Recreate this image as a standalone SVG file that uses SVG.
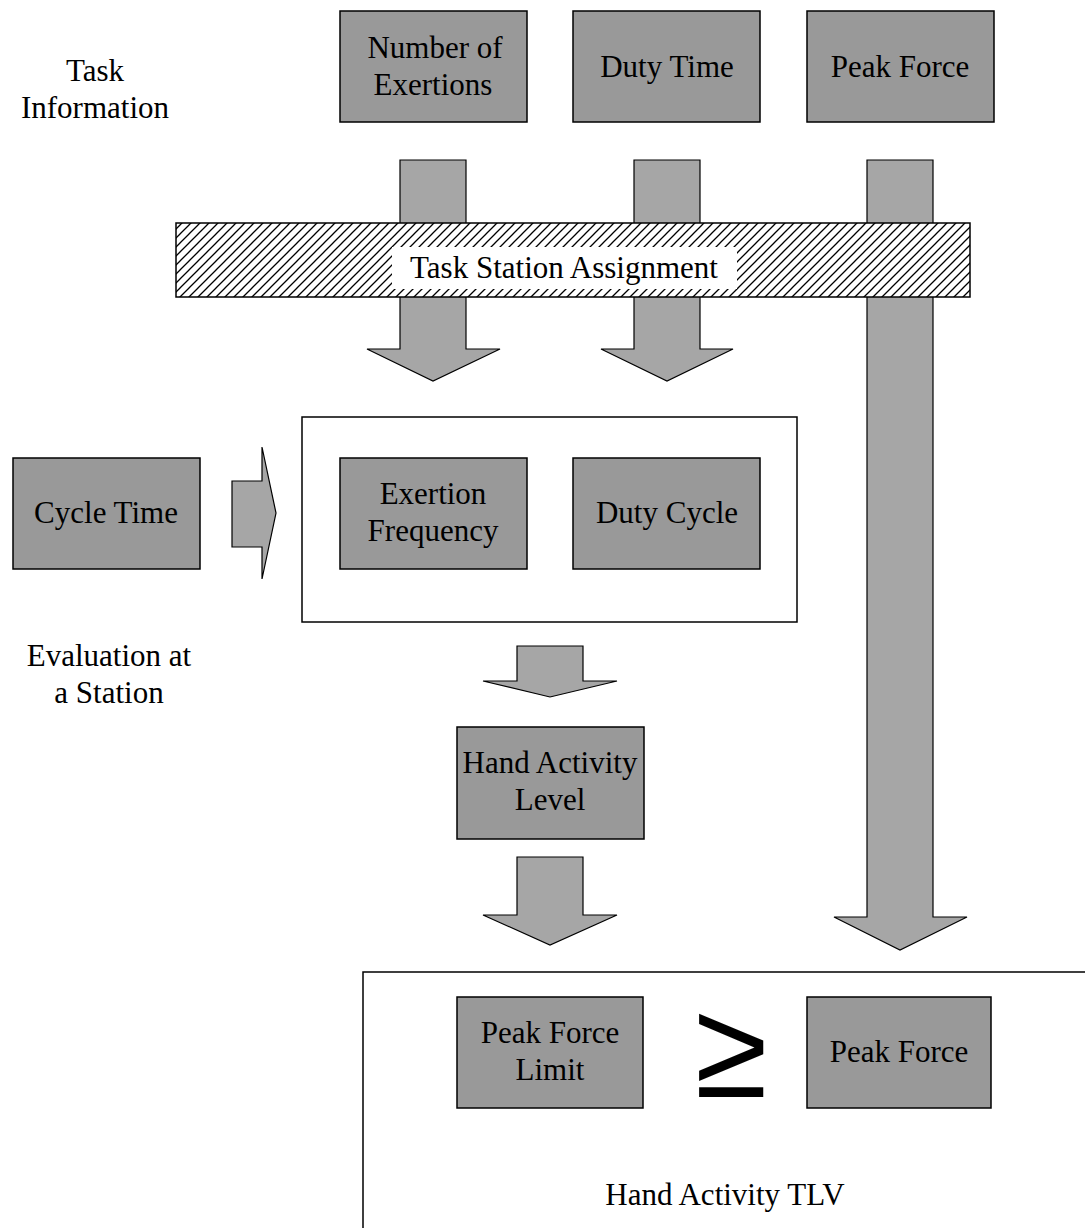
<svg xmlns="http://www.w3.org/2000/svg" width="1085" height="1228" viewBox="0 0 1085 1228">
<style>
.box{fill:#999999;stroke:#000;stroke-width:1.5}
.arr{fill:#a6a6a6;stroke:#000;stroke-width:1.2;stroke-linejoin:miter}
.frame{fill:none;stroke:#000;stroke-width:1.5}
text{font-family:"Liberation Serif","Times New Roman",serif;font-size:31px;fill:#000;text-anchor:middle}
</style>
<defs>
<pattern id="hatch" patternUnits="userSpaceOnUse" width="9" height="9">
<rect width="9" height="9" fill="#fff"/>
<path d="M-2,2 L2,-2 M0,9 L9,0 M7,11 L11,7" stroke="#000" stroke-width="1.3"/>
</pattern>
</defs>
<rect width="1085" height="1228" fill="#fff"/>

<g id="connectors">
<polygon class="arr" points="400,160 466,160 466,349 500,349 433,381 367,349 400,349"/>
<polygon class="arr" points="634,160 700,160 700,349 733,349 667,381 601,349 634,349"/>
<polygon class="arr" points="867,160 933,160 933,917 967,917 900,950 834,917 867,917"/>
<polygon class="arr" points="232,481 262,481 262,447 276,513 262,579 262,547 232,547"/>
<polygon class="arr" points="517,646 583,646 583,681 617,681 550,697 483,681 517,681"/>
<polygon class="arr" points="517,857 583,857 583,915 617,915 550,945 483,915 517,915"/>
</g>

<g id="task-station-assignment">
<rect x="176" y="223" width="794" height="74" fill="url(#hatch)" stroke="#000" stroke-width="1.5"/>
<rect x="392" y="247" width="345" height="42" fill="#fff"/>
<text x="564" y="278">Task Station Assignment</text>
</g>

<g id="task-information-label">
<text x="95" y="81">Task</text>
<text x="95" y="118">Information</text>
</g>

<g id="number-of-exertions">
<rect class="box" x="340" y="11" width="187" height="111"/>
<text x="435" y="58">Number of</text>
<text x="433" y="95">Exertions</text>
</g>
<g id="duty-time">
<rect class="box" x="573" y="11" width="187" height="111"/>
<text x="667" y="77">Duty Time</text>
</g>
<g id="peak-force-top">
<rect class="box" x="807" y="11" width="187" height="111"/>
<text x="900" y="77">Peak Force</text>
</g>

<g id="cycle-time">
<rect class="box" x="13" y="458" width="187" height="111"/>
<text x="106" y="523">Cycle Time</text>
</g>

<g id="evaluation-station">
<rect class="frame" x="302" y="417" width="495" height="205"/>
</g>
<g id="exertion-frequency">
<rect class="box" x="340" y="458" width="187" height="111"/>
<text x="433" y="504">Exertion</text>
<text x="433" y="541">Frequency</text>
</g>
<g id="duty-cycle">
<rect class="box" x="573" y="458" width="187" height="111"/>
<text x="667" y="523">Duty Cycle</text>
</g>
<g id="evaluation-label">
<text x="109" y="666">Evaluation at</text>
<text x="109" y="703">a Station</text>
</g>

<g id="hand-activity-level">
<rect class="box" x="457" y="727" width="187" height="112"/>
<text x="550" y="773">Hand Activity</text>
<text x="550" y="810">Level</text>
</g>

<g id="hand-activity-tlv">
<path class="frame" d="M1085,972 L363,972 L363,1228"/>
<text x="725" y="1205">Hand Activity TLV</text>
</g>
<g id="peak-force-limit">
<rect class="box" x="457" y="997" width="186" height="111"/>
<text x="550" y="1043">Peak Force</text>
<text x="550" y="1080">Limit</text>
</g>
<g id="geq">
<text transform="translate(731,1097) scale(1,1.05)" x="0" y="0" style="font-family:'Liberation Sans',Arial,sans-serif;font-size:132px">≥</text>
</g>
<g id="peak-force-bottom">
<rect class="box" x="807" y="997" width="184" height="111"/>
<text x="899" y="1062">Peak Force</text>
</g>
</svg>
